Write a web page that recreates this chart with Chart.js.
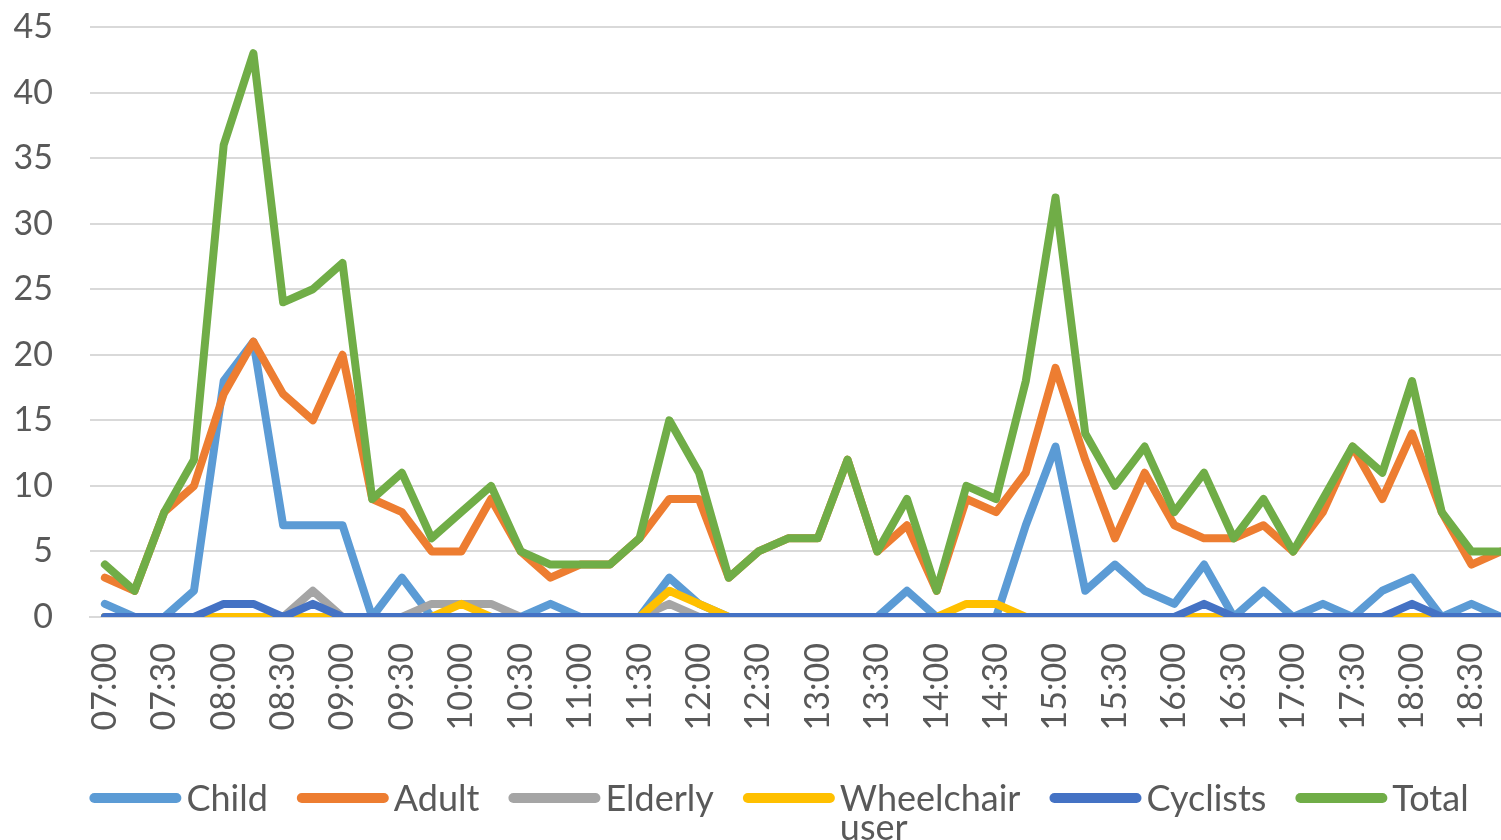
<!DOCTYPE html>
<html>
<head>
<meta charset="utf-8">
<script src="https://cdn.jsdelivr.net/npm/chart.js@4.4.1/dist/chart.umd.min.js"></script>
<style>
html, body { margin: 0; padding: 0; overflow: hidden; background: #fff; width: 1501px; height: 840px; }
#c { display: block; }
</style>
</head>
<body>
<canvas id="c" width="1516" height="840"></canvas>
<script>
const categories = ['07:00','07:15','07:30','07:45','08:00','08:15','08:30','08:45','09:00','09:15',
  '09:30','09:45','10:00','10:15','10:30','10:45','11:00','11:15','11:30','11:45',
  '12:00','12:15','12:30','12:45','13:00','13:15','13:30','13:45','14:00','14:15',
  '14:30','14:45','15:00','15:15','15:30','15:45','16:00','16:15','16:30','16:45',
  '17:00','17:15','17:30','17:45','18:00','18:15','18:30','18:45'];
const tickLabels = ['07:00','07:30','08:00','08:30','09:00','09:30','10:00','10:30','11:00','11:30',
  '12:00','12:30','13:00','13:30','14:00','14:30','15:00','15:30','16:00','16:30',
  '17:00','17:30','18:00','18:30'];
const child = [1,0,0,2,18,21,7,7,7,0,3,0,0,0,0,1,0,0,0,3,1,0,0,0,0,0,0,2,0,0,0,7,13,2,4,2,1,4,0,2,0,1,0,2,3,0,1,0];
const adult = [3,2,8,10,17,21,17,15,20,9,8,5,5,9,5,3,4,4,6,9,9,3,5,6,6,12,5,7,2,9,8,11,19,12,6,11,7,6,6,7,5,8,13,9,14,8,4,5];
const elderly = [0,0,0,0,0,0,0,2,0,0,0,1,1,1,0,0,0,0,0,1,0,0,0,0,0,0,0,0,0,0,0,0,0,0,0,0,0,0,0,0,0,0,0,0,0,0,0,0];
const wheelchair = [0,0,0,0,0,0,0,0,0,0,0,0,1,0,0,0,0,0,0,2,1,0,0,0,0,0,0,0,0,1,1,0,0,0,0,0,0,0,0,0,0,0,0,0,0,0,0,0];
const cyclists = [0,0,0,0,1,1,0,1,0,0,0,0,0,0,0,0,0,0,0,0,0,0,0,0,0,0,0,0,0,0,0,0,0,0,0,0,0,1,0,0,0,0,0,0,1,0,0,0];
const total = [4,2,8,12,36,43,24,25,27,9,11,6,8,10,5,4,4,4,6,15,11,3,5,6,6,12,5,9,2,10,9,18,32,14,10,13,8,11,6,9,5,9,13,11,18,8,5,5];
const yTicks = [0,5,10,15,20,25,30,35,40,45];

const seriesNames = ['Child','Adult','Elderly','Wheelchair user','Cyclists','Total'];
const seriesData = [child, adult, elderly, wheelchair, cyclists, total];
const seriesColors = ['#5B9BD5','#ED7D31','#A5A5A5','#FFC000','#4472C4','#70AD47'];

const FONT = 'Lato';
const TEXT = '#595959';

const legendPlugin = {
  id: 'excelLegend',
  afterDraw(chart) {
    const ctx = chart.ctx;
    ctx.save();
    ctx.font = '36px ' + FONT;
    const lineLen = 92, gapText = 5, gapItem = 29, lineY = 798, baseY = 811, lineStep = 29;
    const items = seriesNames.map((n, i) => {
      const lines = n === 'Wheelchair user' ? ['Wheelchair', 'user'] : [n];
      const w = Math.max(...lines.map(l => ctx.measureText(l).width));
      return { lines, w, color: seriesColors[i] };
    });
    const totalW = items.reduce((s, it) => s + lineLen + gapText + it.w, 0) + gapItem * (items.length - 1);
    let x = 779 - totalW / 2;
    items.forEach(it => {
      ctx.strokeStyle = it.color;
      ctx.lineWidth = 10;
      ctx.lineCap = 'round';
      ctx.beginPath();
      ctx.moveTo(x + 5, lineY);
      ctx.lineTo(x + lineLen - 5, lineY);
      ctx.stroke();
      ctx.fillStyle = TEXT;
      ctx.textAlign = 'left';
      ctx.textBaseline = 'alphabetic';
      it.lines.forEach((l, k) => ctx.fillText(l, x + lineLen + gapText, baseY + k * lineStep));
      x += lineLen + gapText + it.w + gapItem;
    });
    ctx.restore();
  }
};

new Chart(document.getElementById('c'), {
  type: 'line',
  data: {
    labels: categories,
    datasets: seriesNames.map((n, i) => ({
      label: n,
      data: seriesData[i],
      borderColor: seriesColors[i],
      backgroundColor: seriesColors[i],
      borderWidth: 8,
      pointRadius: 0,
      pointHoverRadius: 0,
      tension: 0,
      fill: false,
      borderJoinStyle: 'round',
      borderCapStyle: 'round',
      order: seriesNames.length - i
    }))
  },
  options: {
    responsive: false,
    animation: false,
    layout: { padding: { left: 0, right: 0, top: 27, bottom: 100 } },
    plugins: {
      legend: { display: false },
      tooltip: { enabled: false },
      title: { display: false }
    },
    scales: {
      x: {
        type: 'category',
        offset: true,
        grid: { display: false, drawTicks: false },
        border: { display: true, color: '#d9d9d9', width: 2 },
        ticks: {
          autoSkip: false,
          maxRotation: 90,
          minRotation: 90,
          padding: 26,
          color: TEXT,
          font: { family: FONT, size: 34 },
          callback: function (v, i) {
            const lab = categories[i];
            return tickLabels.includes(lab) ? lab : '';
          }
        },
        afterFit: s => { s.height = 123; s.paddingLeft = 0; s.paddingRight = 0; }
      },
      y: {
        min: 0,
        max: 45,
        afterBuildTicks: s => { s.ticks = yTicks.map(v => ({ value: v })); },
        grid: { color: '#d9d9d9', lineWidth: 2, drawTicks: false },
        border: { display: false },
        ticks: {
          padding: 37,
          color: TEXT,
          font: { family: FONT, size: 34 }
        },
        afterFit: s => { s.width = 90; s.paddingTop = 0; s.paddingBottom = 0; }
      }
    }
  },
  plugins: [legendPlugin]
});
</script>
</body>
</html>
